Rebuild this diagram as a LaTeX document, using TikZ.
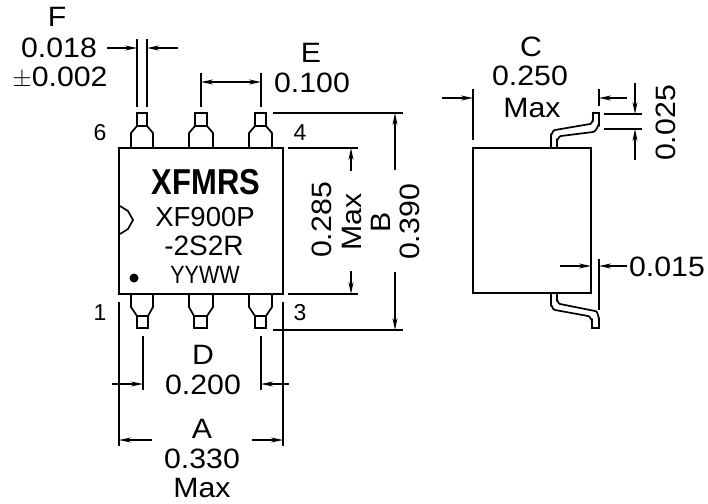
\documentclass[tikz,border=0pt]{standalone}
\usepackage{fontspec}
\usepackage{amsmath}
\usetikzlibrary{arrows.meta}
\setmainfont{Liberation Sans}
\newfontfamily\dimfamily[FakeStretch=1.08]{Liberation Sans}
\newfontfamily\chipfamily[FakeStretch=0.86]{Liberation Sans}
\begin{document}
\begin{tikzpicture}[x=1pt,y=-1pt,line width=1.7pt,
  dimarrow/.style={line width=1.5pt,-{Stealth[length=12pt,width=5pt]}},
  dimline/.style={line width=1.5pt},
  dimtext/.style={font=\dimfamily\fontsize{28}{28}\selectfont,inner sep=0pt},
  chiptext/.style={font=\chipfamily\fontsize{25}{25}\selectfont,inner sep=0pt},
  pintext/.style={font=\fontsize{23}{23}\selectfont,inner sep=0pt}]
\useasboundingbox (0,0) rectangle (708,503);
% top view
\draw (119,148) rectangle (283,294);
\draw (120,206)--(128,211)--(133,220)--(128,229)--(120,234);
\fill (134,278) circle (4.5);
\draw (131,148)--(131,133)--(137,126)--(147,126)--(153,133)--(153,148);
\draw (137,126) rectangle (147,113);
\draw (189,148)--(189,133)--(195,126)--(207,126)--(213,133)--(213,148);
\draw (195,126) rectangle (207,113);
\draw (249,148)--(249,133)--(255,126)--(266,126)--(272,133)--(272,148);
\draw (255,126) rectangle (266,113);
\draw (131,294)--(131,307)--(137,316)--(148,316)--(153,307)--(153,294);
\draw (137,316) rectangle (148,328);
\draw (189,294)--(189,307)--(194,316)--(207,316)--(213,307)--(213,294);
\draw (194,316) rectangle (207,328);
\draw (249,294)--(249,307)--(255,316)--(266,316)--(272,307)--(272,294);
\draw (255,316) rectangle (266,328);
% F
\draw[dimline] (137,39)--(137,107);
\draw[dimline] (147,39)--(147,107);
\draw[dimarrow] (107,48)--(137,48);
\draw[dimarrow] (178,48)--(147,48);
% E
\draw[dimline] (201,73)--(201,107);
\draw[dimline] (261,73)--(261,107);
\draw[dimarrow,{Stealth[length=12pt,width=5pt]}-{Stealth[length=12pt,width=5pt]}] (201,82)--(261,82);
% B and 0.285
\draw[dimline] (273,113)--(403,113);
\draw[dimline] (273,330)--(403,330);
\draw[dimline] (288,148)--(358,148);
\draw[dimline] (288,294)--(358,294);
\draw[dimarrow] (351,171)--(351,148);
\draw[dimarrow] (351,271)--(351,294);
\draw[dimarrow] (395,170)--(395,113);
\draw[dimarrow] (395,272)--(395,330);
% A and D
\draw[dimline] (119,302)--(119,446);
\draw[dimline] (283,302)--(283,446);
\draw[dimline] (143,336)--(143,390);
\draw[dimline] (261,336)--(261,390);
\draw[dimarrow] (112,384)--(143,384);
\draw[dimarrow] (289,384)--(261,384);
\draw[dimarrow] (152,440)--(119,440);
\draw[dimarrow] (252,440)--(283,440);
% side view
\draw (473,148) rectangle (591,293);
\draw (551,148)--(551,135) to[out=-90,in=170] (555,130)--(590,124) to[out=-10,in=90] (593,120)--(593,113)--(599,113)--(599,125) to[out=90,in=-10] (593,132)--(561,136) to[out=170,in=-90] (557,140)--(557,148);
\draw (551,293)--(551,305) to[out=90,in=190] (555,310)--(588,316) to[out=10,in=-90] (592,320)--(592,328)--(599,328)--(599,320) to[out=-90,in=10] (595,311)--(560,304) to[out=190,in=90] (557,300)--(557,293);
% C
\draw[dimline] (473,89)--(473,140);
\draw[dimline] (599,89)--(599,106);
\draw[dimarrow] (442,98)--(473,98);
\draw[dimarrow] (627,98)--(599,98);
% 0.025
\draw[dimline] (604,114)--(642,114);
\draw[dimline] (604,129)--(642,129);
\draw[dimarrow] (635,83)--(635,114);
\draw[dimarrow] (635,160)--(635,129);
% 0.015
\draw[dimline] (599,259)--(599,310);
\draw[dimarrow] (560,266)--(591,266);
\draw[dimarrow] (627,266)--(599,266);
% labels
\path
(57,17) node[dimtext] (labelF) {F};
\path
(59,48) node[dimtext] (valF) {0.018};
\path
(60,78) node[dimtext] (tolF) {$\pm$0.002};
\path
(311,53) node[dimtext] (labelE) {E};
\path
(312,83) node[dimtext] (valE) {0.100};
\path
(100,133) node[pintext] (pinsix) {6};
\path
(300,133) node[pintext] (pinfour) {4};
\path
(100,313) node[pintext] (pinone) {1};
\path
(300,313) node[pintext] (pinthree) {3};
\path
(206,182) node[inner sep=0pt,font=\chipfamily\bfseries\fontsize{36}{36}\selectfont] (brand) {XFMRS};
\path
(205,217) node[inner sep=0pt,font=\fontsize{27.5}{27.5}\selectfont] (partone) {XF900P};
\path
(204,246) node[inner sep=0pt,font=\fontsize{28}{28}\selectfont] (parttwo) {-2S2R};
\path
(205,275) node[chiptext] (datecode) {YYWW};
\path
(322,220) node[dimtext,rotate=90] (valwidth) {0.285};
\path
(352,222) node[dimtext,rotate=90] (maxwidth) {Max};
\path
(381,222) node[dimtext,rotate=90] (labelB) {B};
\path
(410,222) node[dimtext,rotate=90] (valB) {0.390};
\path
(203,355) node[dimtext] (labelD) {D};
\path
(203,385) node[dimtext] (valD) {0.200};
\path
(202,429) node[dimtext] (labelA) {A};
\path
(202,459) node[dimtext] (valA) {0.330};
\path
(202,488) node[dimtext] (maxA) {Max};
\path
(531,47) node[dimtext] (labelC) {C};
\path
(530,76) node[dimtext] (valC) {0.250};
\path
(532,108) node[dimtext] (maxC) {Max};
\path
(666,123) node[dimtext,rotate=90] (vallead) {0.025};
\path
(667,267) node[dimtext] (valthick) {0.015};
\end{tikzpicture}
\end{document}
